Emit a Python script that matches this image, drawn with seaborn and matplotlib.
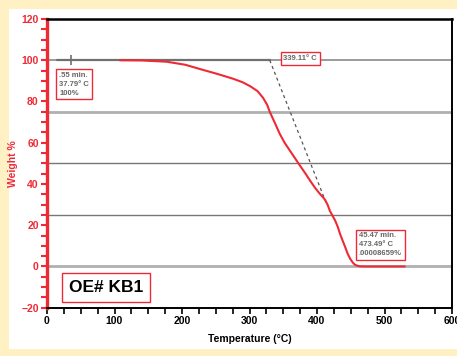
import matplotlib
matplotlib.use("Agg")
import matplotlib.pyplot as plt
import matplotlib.patches as mpatches
from matplotlib.ticker import MultipleLocator
import seaborn as sns
import pandas as pd

# ---- data ----
temperature = [108, 140, 177, 205, 227, 252, 276, 290, 301, 312, 320, 326, 330, 338, 345, 352,
               360, 368, 375, 383, 390, 397, 404, 409, 412, 416, 419, 423, 427, 431, 434, 438,
               442, 445, 449, 453, 456, 460, 464, 475, 488, 510, 530]
weight = [100, 99.9, 99.3, 97.8, 95.7, 93.4, 91.0, 89.3, 87.4, 85.0, 81.8, 78.5, 75.0, 69.3, 64.2, 60.0,
          56.1, 52.2, 48.8, 45.0, 41.5, 38.2, 35.3, 33.5, 32.3, 29.7, 27.0, 24.6, 22.2, 19.0, 15.9, 12.5,
          9.2, 6.5, 3.8, 1.9, 0.9, 0.3, 0.05, 0.0, 0.0, 0.0, 0.0]
grid_levels = [100, 75, 50, 25, 0]
baseline_x = [15, 108, 330]
baseline_y = [100, 100, 100]
tangent_x = [330, 414]
tangent_y = [100, 30.5]
start_marker = (35, 100)
ann_start = ".55 min.\n37.79° C\n100%"
ann_onset = "339.11° C"
ann_end = "45.47 min.\n473.49° C\n.00008659%"
sample_name = "OE# KB1"
x_label = "Temperature (°C)"
y_label = "Weight %"

RED = "#ee2a35"
BG = "#fff1c4"

sns.set_style("white")
plt.rcParams['font.family'] = ['Liberation Sans Narrow', 'Liberation Sans', 'DejaVu Sans']

fig = plt.figure(figsize=(4.57, 3.56), dpi=100, facecolor=BG)
# white panel (behind axes)
panel = mpatches.Rectangle((9 / 457, 0.02), 1.0, 1 - 9 / 356 - 0.02,
                           transform=fig.transFigure, facecolor="white",
                           edgecolor="none", zorder=-10)
fig.patches.append(panel)
ax = fig.add_axes([47 / 457, 1 - 307.7 / 356, (452 - 47) / 457, (307.7 - 19) / 356])
ax.set_zorder(1)
ax.set_facecolor("white")

# grid lines
grid_styles = {100: ("#8a8a8a", 1.2), 75: ("#b0b0b0", 2.0), 50: ("#777777", 1.0),
               25: ("#777777", 1.0), 0: ("#b0b0b0", 2.0)}
for lvl in grid_levels:
    c, lw = grid_styles[lvl]
    ax.axhline(lvl, color=c, lw=lw, zorder=1)

# baseline & tangent
ax.plot(baseline_x, baseline_y, color="#707070", lw=1.6, zorder=2)
ax.plot(tangent_x, tangent_y, color="#555555", lw=0.9, ls=(0, (2.5, 2.5)), zorder=2)
ax.plot([start_marker[0]], [start_marker[1]], marker="+", color="#707070", ms=7, mew=1.2, zorder=3)

df = pd.DataFrame({"Temperature": temperature, "Weight": weight})
sns.lineplot(data=df, x="Temperature", y="Weight", color=RED, lw=1.5, ax=ax, zorder=4,
             sort=False, estimator=None)

ax.set_xlim(0, 600)
ax.set_ylim(-20, 120)
ax.xaxis.set_major_locator(MultipleLocator(100))
ax.xaxis.set_minor_locator(MultipleLocator(25))
ax.yaxis.set_major_locator(MultipleLocator(20))
ax.yaxis.set_minor_locator(MultipleLocator(5))

ax.tick_params(axis="x", which="both", direction="out", length=4, width=1.2, colors="black",
               bottom=True, labelsize=7.5, pad=2)
ax.tick_params(axis="y", which="both", direction="out", length=4, width=1.5, colors=RED,
               left=True, labelsize=7.5, pad=2)
for lab in ax.get_xticklabels() + ax.get_yticklabels():
    lab.set_fontweight("bold")
for lab in ax.get_yticklabels():
    lab.set_color(RED)

for s in ["top", "right", "bottom"]:
    ax.spines[s].set_color("black")
ax.spines["top"].set_linewidth(1.8)
ax.spines["right"].set_linewidth(1.4)
ax.spines["bottom"].set_linewidth(1.4)
ax.spines["left"].set_color(RED)
ax.spines["left"].set_linewidth(2.4)

ax.set_xlabel(x_label, fontsize=7.5, fontweight="bold", color="black", labelpad=6)
ax.set_ylabel(y_label, fontsize=7.5, fontweight="bold", color=RED, labelpad=2)

box = dict(boxstyle="square,pad=0.35", facecolor="white", edgecolor=RED, lw=1.0)
ax.text(18, 94.5, ann_start, fontsize=5.5, fontweight="bold", color="#666666",
        ha="left", va="top", linespacing=1.4, bbox=box, zorder=6)
ax.text(375, 100.8, ann_onset, fontsize=5.5, fontweight="bold", color="#666666",
        ha="center", va="center", bbox=box, zorder=6)
ax.text(462, 16.5, ann_end, fontsize=5.5, fontweight="bold", color="#666666",
        ha="left", va="top", linespacing=1.4, bbox=box, zorder=6)
ax.text(88, -10.0, sample_name, fontsize=12.5, fontweight="bold", color="black",
        ha="center", va="center",
        bbox=dict(boxstyle="square,pad=0.4", facecolor="white", edgecolor=RED, lw=1.0), zorder=6)

fig.savefig("out.png", dpi=100, facecolor=BG)
